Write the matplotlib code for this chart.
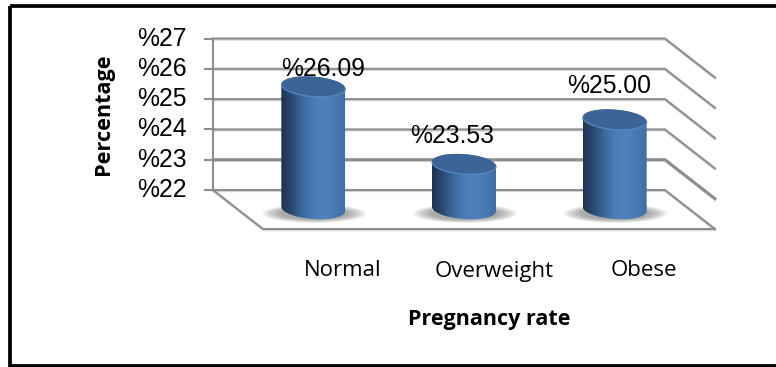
import numpy as np
import matplotlib.pyplot as plt
from matplotlib.patches import Rectangle, PathPatch
from matplotlib.path import Path
from matplotlib.colors import LinearSegmentedColormap
from matplotlib.transforms import Affine2D

categories = ["Normal", "Overweight", "Obese"]
values = [26.09, 23.53, 25.00]
value_labels = ["%26.09", "%23.53", "%25.00"]
y_ticks = [22, 23, 24, 25, 26, 27]
y_tick_labels = ["%22", "%23", "%24", "%25", "%26", "%27"]

W, H = 776, 367
BASE = 22
DEPTH_X, DEPTH_Y = 50, 39  # floor depth, in pixels
GRID = "#8e8e8e"

# label placement relative to the top of each cylinder, in pixels
label_dx = [10, -12, -6]
label_dy = [18, 28, 34]

fig = plt.figure(figsize=(W / 100, H / 100), dpi=100)
fig.patch.set_facecolor("white")

# overlay axes in pixel coordinates for the outer frame and titles
frame_ax = fig.add_axes([0, 0, 1, 1], zorder=0)
frame_ax.set_xlim(0, W)
frame_ax.set_ylim(H, 0)
frame_ax.axis("off")
frame_ax.add_patch(Rectangle((10, 5.5), W + 20, 360.5, fill=False, ec="black", lw=2.7))

# back wall of the 3-D box
ax = fig.add_axes([213 / W, 1 - 190 / H, 452 / W, 151.5 / H], zorder=1)
ax.set_xlim(0, 3)
ax.set_ylim(22, 27)
ax.axis("off")

half = Affine2D().translate(DEPTH_X / 2 + 2.5, -DEPTH_Y / 2 - 1)
mid_trans = ax.transData + half
unit_x = 3 / 452
unit_y = 5 / 151.5

for t, lab in zip(y_ticks, y_tick_labels):
    lw = 2.2 if t == 23 else 1.5
    xs = [0, 3, 3 + DEPTH_X * unit_x]
    ys = [t, t, t - DEPTH_Y * unit_y]
    ax.plot(xs, [y - 1.3 * unit_y for y in ys], color="#d4d4d4", lw=1.2, clip_on=False, zorder=1)
    ax.plot(xs, ys, color=GRID, lw=lw, clip_on=False, zorder=2)
    ax.plot([-8 * unit_x, 0], [t, t], color=GRID, lw=1.5, clip_on=False, zorder=2)
    ax.text(-26 * unit_x, t, lab, ha="right", va="center", fontsize=17.8,
            family="Liberation Sans", color="black")

ax.plot([0, 0], [22, 27], color=GRID, lw=1.5, clip_on=False, zorder=2)
# floor edges
floor_x = [0, DEPTH_X * unit_x, 3 + DEPTH_X * unit_x]
floor_y = [22, 22 - DEPTH_Y * unit_y, 22 - DEPTH_Y * unit_y]
ax.plot(floor_x, [y - 1.3 * unit_y for y in floor_y], color="#dcdcdc", lw=1.2, clip_on=False, zorder=1)
ax.plot(floor_x, floor_y, color=GRID, lw=1.5, clip_on=False, zorder=2)

shade = LinearSegmentedColormap.from_list(
    "cyl", ["#1e3450", "#2a4a73", "#3c689c", "#4a7cb6", "#4f82bd", "#4a7ab2", "#3f6ea6"]
)

half_w = 32 * unit_x
cap_h = 10 * unit_y
tilt = 2.2 * unit_y
theta = np.linspace(0, 2 * np.pi, 121)


def ellipse_xy(cx, cy):
    ex = cx + half_w * np.cos(theta)
    ey = cy + cap_h * np.sin(theta) - tilt * np.cos(theta)
    return ex, ey


for i, (val, lab) in enumerate(zip(values, value_labels)):
    cx = i + 0.5 - 2.5 * unit_x

    # soft shadow on the floor
    for k in np.linspace(1.3, 0.85, 9):
        sx = cx + 1 * unit_x + 1.25 * k * half_w * np.cos(theta)
        sy = BASE - 3 * unit_y + 0.72 * k * cap_h * np.sin(theta)
        ax.fill(sx, sy, color="#555555", alpha=0.07, lw=0, transform=mid_trans, clip_on=False, zorder=3)

    # body: horizontal gradient clipped to the cylinder outline
    tb = np.linspace(np.pi, 2 * np.pi, 60)
    bx = cx + half_w * np.cos(tb)
    by = BASE + 1.5 * unit_y + cap_h * np.sin(tb) - tilt * np.cos(tb)
    tt = np.linspace(0, np.pi, 60)
    tx = cx + half_w * np.cos(tt)
    ty = val + cap_h * np.sin(tt) - tilt * np.cos(tt)
    outline = PathPatch(Path(np.column_stack([np.r_[bx, tx], np.r_[by, ty]])),
                        transform=mid_trans, fc="none", ec="none", clip_on=False)
    ax.add_patch(outline)
    im = ax.imshow(np.linspace(0, 1, 128)[None, :], cmap=shade, aspect="auto",
                   extent=[cx - half_w, cx + half_w, BASE - 2, val + 1],
                   transform=mid_trans, zorder=4)
    im.set_clip_box(fig.bbox)
    im.set_clip_path(outline)

    # top cap
    ex, ey = ellipse_xy(cx, val)
    ax.fill(ex, ey, color="#3c6496", lw=0, transform=mid_trans, clip_on=False, zorder=6)
    low = theta > np.pi
    ax.plot(ex[low], ey[low], color="#5588c2", lw=0.9, transform=mid_trans, clip_on=False, zorder=7)

    ax.text(cx + label_dx[i] * unit_x, val + label_dy[i] * unit_y, lab, ha="center", va="center",
            fontsize=17.8, family="Liberation Sans", color="black", transform=mid_trans, zorder=8)

ax.set_xlim(0, 3)
ax.set_ylim(22, 27)

# category and axis titles
cat_x = [343, 494, 644]
for x, name in zip(cat_x, categories):
    frame_ax.text(x, 271, name, ha="center", va="center", fontsize=16, family="Open Sans", color="black")
frame_ax.text(489, 320, "Pregnancy rate", ha="center", va="center", fontsize=15.5,
              family="Open Sans", fontweight="bold", color="black")
frame_ax.text(103, 114, "Percentage", ha="center", va="center", rotation=90, fontsize=15.6,
              family="Open Sans", fontweight="bold", color="black")

fig.savefig("out.png", dpi=100, facecolor="white")
